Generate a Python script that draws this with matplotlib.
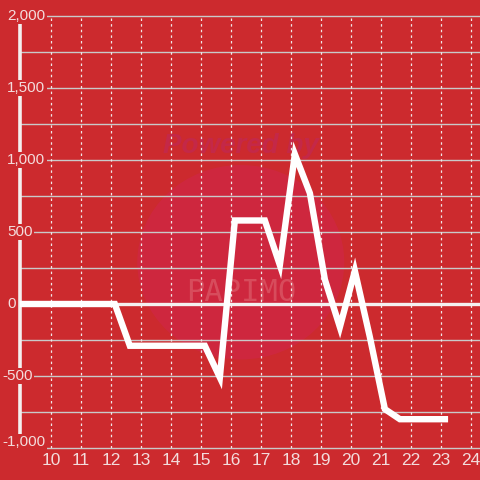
import matplotlib.pyplot as plt
from matplotlib.patches import Circle

# data
hours = [8.63, 9.13, 9.63, 10.13, 10.63, 11.13, 11.63, 12.13, 12.63, 13.13, 13.63,
         14.13, 14.63, 15.13, 15.63, 16.13, 16.63, 17.13, 17.63, 18.13, 18.63,
         19.13, 19.63, 20.13, 20.63, 21.13, 21.63, 22.13, 22.63, 23.13]
values = [0, 0, 0, 0, 0, 0, 0, 0, -290, -290, -290,
          -290, -290, -290, -510, 580, 580, 580, 270, 1040, 770,
          170, -160, 230, -230, -730, -800, -800, -800, -800]
x_ticks = list(range(10, 25))
y_ticks = [-1000, -500, 0, 500, 1000, 1500, 2000]
y_grid = [-1000, -750, -500, -250, 0, 250, 500, 750, 1000, 1250, 1500, 1750, 2000]

bg = '#cc2a2e'
txt = '#f3dcdc'
plt.rcParams['font.family'] = ['Liberation Sans', 'DejaVu Sans']

fig = plt.figure(figsize=(4.8, 4.8), dpi=100, facecolor=bg)
ax = fig.add_axes([20/480, 32/480, 460/480, 432/480])
ax.set_facecolor(bg)
ax.set_xlim(8.97, 24.3)
ax.set_ylim(-1000, 2000)
for s in ax.spines.values():
    s.set_visible(False)
ax.set_xticks([])
ax.set_yticks([])

# watermark
ax.add_patch(Circle((0.48, 0.43), 0.225, transform=ax.transAxes,
                    color='#d0264a', alpha=0.6, lw=0, zorder=0))
ax.text(0.48, 0.70, 'Powered by', transform=ax.transAxes, ha='center', va='center',
        fontsize=20, fontweight='bold', style='italic', color='#c42848', zorder=0)
ax.text(0.48, 0.36, 'PAPIMO', transform=ax.transAxes, ha='center', va='center',
        fontsize=22, family='DejaVu Sans Mono', color='#dc5c6a', alpha=0.7, zorder=0)

for v in y_grid:
    if v == 0:
        continue
    ax.axhline(v, color='#c9c9c9', lw=1.0, zorder=1, clip_on=False)
for xv in x_ticks:
    ax.axvline(xv, color='#f0e8e8', lw=0.9, ls=(0, (2, 2.5)), zorder=1)
ax.axhline(0, color='#f4f0f0', lw=2.4, zorder=2)
ax.axvline(8.97, ymin=0.025, ymax=0.98, color='#f4f0f0', lw=2.6, zorder=2, clip_on=False)

ax.plot(hours, values, color='white', lw=4.6, zorder=3, solid_joinstyle='miter')

for v in y_ticks:
    xoff = -13/460 if v >= 0 else -17.5/460
    yoff = 6/432 if v == -1000 else 0
    ax.text(xoff, (v + 1000) / 3000 + yoff, f'{v:,}', transform=ax.transAxes,
            ha='left', va='center', fontsize=11, color=txt, zorder=5, clip_on=False,
            bbox=dict(facecolor=bg, edgecolor='none', pad=1.0))
for xv in x_ticks:
    ax.annotate(str(xv), (xv, -1000), xytext=(0, -3.5), textcoords='offset points',
                ha='center', va='top', fontsize=12.5, color=txt, annotation_clip=False,
                family=['Liberation Sans Narrow', 'Liberation Sans'])

fig.savefig('out.png', dpi=100, facecolor=bg)
